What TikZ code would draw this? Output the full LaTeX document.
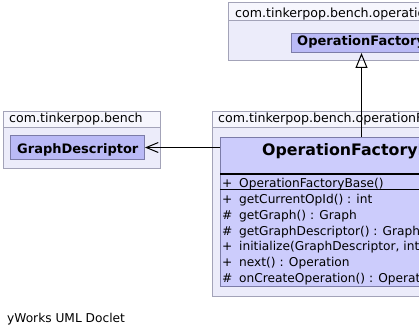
\documentclass[tikz,border=0pt]{standalone}
\usepackage{fontspec}
\setmainfont{DejaVu Sans}
\usetikzlibrary{arrows.meta}

\definecolor{pkgtab}{HTML}{F6F6FD}
\definecolor{pkgbody}{HTML}{ECECFA}
\definecolor{pkgline}{HTML}{A3A3B8}
\definecolor{clsfill}{HTML}{BABAF6}
\definecolor{clsmain}{HTML}{CCCCFC}
\definecolor{clsline}{HTML}{7C7CA8}

\tikzset{
  box/.style={draw, line width=1pt, inner sep=0pt, anchor=north west},
  pkgtabbox/.style={box, draw=pkgline, fill=pkgtab},
  pkgbodybox/.style={box, draw=pkgline, fill=pkgbody},
  clsbox/.style={box, draw=clsline, fill=clsfill},
  mainbox/.style={box, draw=clsline, fill=clsmain},
  lbl/.style={inner sep=0pt, anchor=base west, font=\fontsize{12.6}{15}\selectfont},
  clsname/.style={inner sep=0pt, anchor=base west, font=\fontsize{13}{15}\selectfont\bfseries},
  member/.style={inner sep=0pt, anchor=base west, font=\fontsize{12.2}{14}\selectfont},
  edge/.style={line width=1pt, black},
}

\begin{document}
\begin{tikzpicture}[x=1pt, y=-1pt]
\useasboundingbox (0,0) rectangle (419,334);
\clip (0,0) rectangle (419,334);

% package com.tinkerpop.bench.operationFactory
\node[pkgbodybox, minimum width=220, minimum height=40] (pkgtop) at (228,20) {};
\node[pkgtabbox, minimum width=220, minimum height=18] (pkgtoptab) at (228,2) {};
\node[lbl] (pkgtoplbl) at (235,17.5) {com.tinkerpop.bench.operationFactory};
\node[clsbox, minimum width=140, minimum height=19] (of) at (291,33) {};
\node[clsname] (ofname) at (297,46) {OperationFactory};

% package com.tinkerpop.bench
\node[pkgbodybox, minimum width=157, minimum height=41] (pkgleft) at (3,127) {};
\node[pkgtabbox, minimum width=157, minimum height=16] (pkglefttab) at (3,111) {};
\node[lbl] (pkgleftlbl) at (9,122.7) {com.tinkerpop.bench};
\node[clsbox, minimum width=134, minimum height=24] (gd) at (10,135) {};
\node[clsname] (gdname) at (17,153) {GraphDescriptor};

% package com.tinkerpop.bench.operationFactory.factories
\node[pkgbodybox, minimum width=300, minimum height=169] (pkgright) at (212,127) {};
\node[pkgtabbox, minimum width=300, minimum height=16] (pkgrighttab) at (212,111) {};
\node[lbl] (pkgrightlbl) at (218,122.7) {com.tinkerpop.bench.operationFactory.factories};

% class OperationFactoryBase
\node[mainbox, minimum width=282, minimum height=149] (ofb) at (220,137) {};
\node[inner sep=0pt, anchor=base west, font=\fontsize{15.8}{18}\selectfont\bfseries] (ofbname) at (262,155) {OperationFactoryBase};
\coordinate (div1) at (220,174);
\coordinate (div2) at (220,189);
\draw[line width=1.4pt, black] (div1) -- (div1 -| ofb.east);
\draw[line width=1pt, black] (div2) -- (div2 -| ofb.east);

\node[member] (m0v) at (222,187) {+};
\node[member] (m0)  at (239,187) {OperationFactoryBase()};
\node[member] (m1v) at (222,203.5) {+};
\node[member] (m1)  at (239,203.5) {getCurrentOpId() : int};
\node[member] (m2v) at (222,219.3) {\#};
\node[member] (m2)  at (239,219.3) {getGraph() : Graph};
\node[member] (m3v) at (222,235) {\#};
\node[member] (m3)  at (239,235) {getGraphDescriptor() : GraphDescriptor};
\node[member] (m4v) at (222,250.8) {+};
\node[member] (m4)  at (239,250.8) {initialize(GraphDescriptor, int)};
\node[member] (m5v) at (222,266.6) {+};
\node[member] (m5)  at (239,266.6) {next() : Operation};
\node[member] (m6v) at (222,282.3) {\#};
\node[member] (m6)  at (239,282.3) {onCreateOperation() : Operation};

% relations
\draw[edge, -{Triangle[open, length=15pt, width=12pt]}] (ofb.north) -- (of.south);
\draw[edge, -{Straight Barb[length=12pt, width=10pt]}] (ofb.west |- gd.east) -- (gd.east);

% footer
\node[lbl, font=\fontsize{12.2}{14}\selectfont] (footer) at (7,322) {yWorks UML Doclet};
\end{tikzpicture}
\end{document}
